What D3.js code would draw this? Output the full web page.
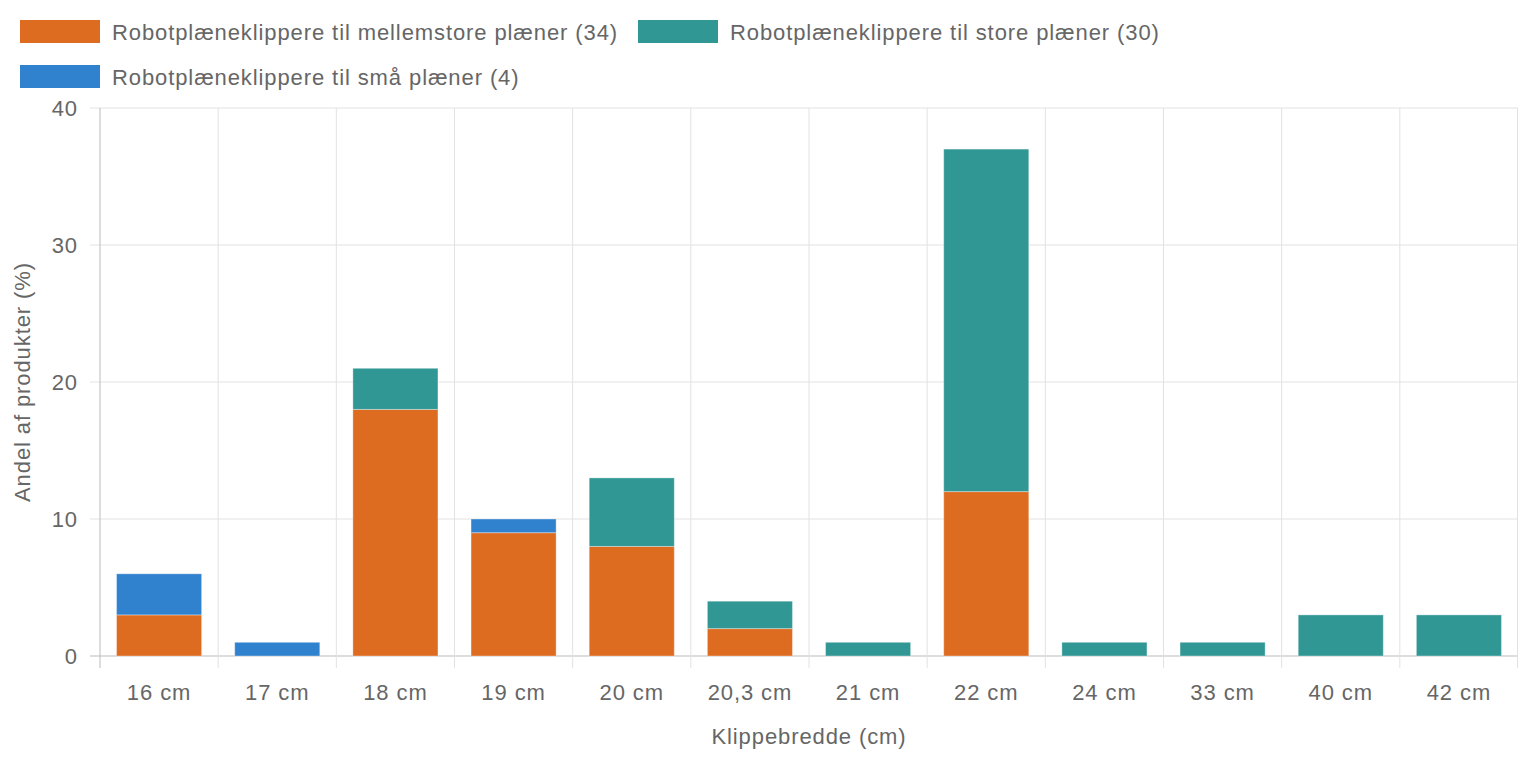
<!DOCTYPE html>
<html><head><meta charset="utf-8">
<script src="https://cdn.jsdelivr.net/npm/d3@7"></script>
<style>body{margin:0;background:#fff}text{font-family:"Liberation Sans",Arial,sans-serif;fill:#666;letter-spacing:0.9px}</style>
</head><body><svg id="c" width="1518" height="758"></svg>
<script>
const categories=["16 cm","17 cm","18 cm","19 cm","20 cm","20,3 cm","21 cm","22 cm","24 cm","33 cm","40 cm","42 cm"];
const medium=[3,0,18,9,8,2,0,12,0,0,0,0];
const large=[0,0,3,0,5,2,1,25,1,1,3,3];
const small=[3,1,0,1,0,0,0,0,0,0,0,0];
const yTicks=[0,10,20,30,40];
const seriesNames=["Robotplæneklippere til mellemstore plæner (34)","Robotplæneklippere til store plæner (30)","Robotplæneklippere til små plæner (4)"];
const colors=["#dd6b20","#319795","#3182ce"];

const svg=d3.select("#c");
const L=100,R=1518,T=108,B=656;
const x=d3.scaleBand().domain(categories).range([L,R]).paddingInner(0.28).paddingOuter(0.14);
const xb=d3.scaleBand().domain(categories).range([L,R]);
const y=d3.scaleLinear().domain([0,40]).range([B,T]);
const g=svg.append("g");
const FS=22;
yTicks.forEach(t=>g.append("line").attr("x1",L-10).attr("x2",R).attr("y1",y(t)).attr("y2",y(t)).attr("stroke",t===0?"#bbb":"#e2e2e2"));
categories.forEach((c,i)=>g.append("line").attr("x1",xb(c)).attr("x2",xb(c)).attr("y1",T).attr("y2",B+12).attr("stroke",i===0?"#bbb":"#e2e2e2"));
g.append("line").attr("x1",R-0.5).attr("x2",R-0.5).attr("y1",T).attr("y2",B+12).attr("stroke","#e2e2e2");
yTicks.forEach(t=>g.append("text").attr("x",78).attr("y",y(t)+8).attr("text-anchor","end").attr("font-size",FS).text(t));
categories.forEach(c=>g.append("text").attr("x",xb(c)+xb.bandwidth()/2).attr("y",700).attr("text-anchor","middle").attr("font-size",FS).text(c));
const stack=categories.map((c,i)=>({c,vals:[medium[i],large[i],small[i]]}));
stack.forEach(d=>{let acc=0;d.vals.forEach((v,k)=>{if(v>0){g.append("rect").attr("x",x(d.c)).attr("width",x.bandwidth()).attr("y",y(acc+v)).attr("height",y(acc)-y(acc+v)).attr("fill",colors[k]).attr("stroke","#fff").attr("stroke-opacity",0.35);}acc+=v;});});
svg.append("text").attr("x",(L+R)/2).attr("y",744).attr("text-anchor","middle").attr("font-size",FS).text("Klippebredde (cm)");
svg.append("text").attr("transform","translate(30,"+((T+B)/2)+") rotate(-90)").attr("text-anchor","middle").attr("font-size",FS).text("Andel af produkter (%)");
const lp=[[20,20],[638,20],[20,65]];
seriesNames.forEach((n,i)=>{svg.append("rect").attr("x",lp[i][0]).attr("y",lp[i][1]).attr("width",80).attr("height",23).attr("fill",colors[i]);
svg.append("text").attr("x",lp[i][0]+92).attr("y",lp[i][1]+20).attr("font-size",FS).text(n);});
</script></body></html>
